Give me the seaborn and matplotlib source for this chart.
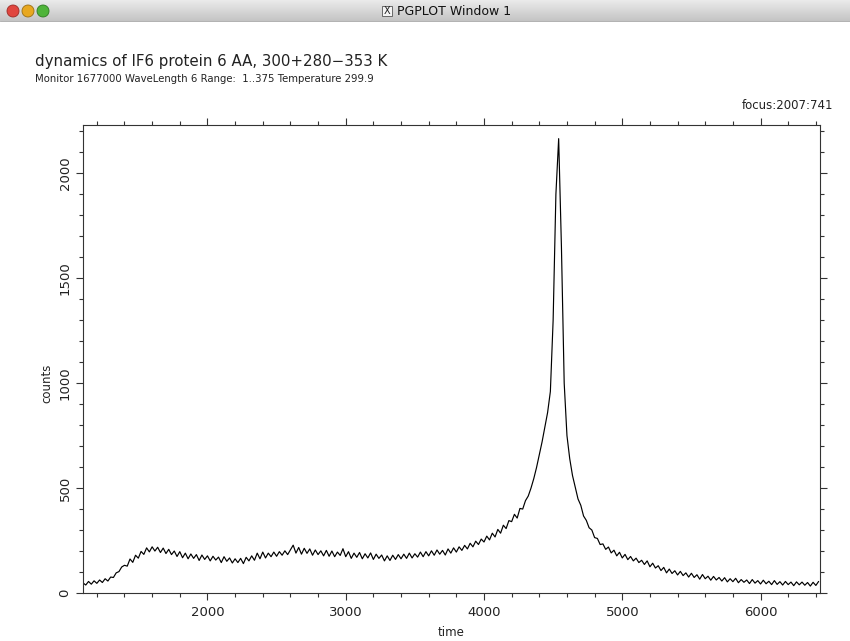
import numpy as np
import pandas as pd
import matplotlib
matplotlib.use("Agg")
import matplotlib.pyplot as plt
import seaborn as sns
from matplotlib.patches import Circle, Rectangle
from matplotlib.ticker import MultipleLocator

# ---------------- data ----------------
time = np.arange(1100, 6421, 20)  # time axis, step 20
counts = [
    48, 38, 55, 42, 58, 46, 62, 50, 68, 57,            # 1100-1280
    76, 74, 96, 102, 124, 132, 128, 162, 146, 180,     # 1300-1480
    166, 198, 184, 215, 196, 220, 200, 218, 193, 214,  # 1500-1680
    188, 208, 183, 200, 174, 197, 168, 190, 163, 186,  # 1700-1880
    165, 183, 155, 181, 160, 177, 153, 175, 157, 171,  # 1900-2080
    145, 173, 151, 167, 143, 163, 145, 165, 140, 170,  # 2100-2280
    153, 177, 156, 190, 163, 195, 167, 190, 173, 195,  # 2300-2480
    175, 197, 180, 201, 183, 205, 228, 190, 217, 185,  # 2500-2680
    213, 189, 210, 180, 205, 183, 201, 177, 203, 175,  # 2700-2880
    200, 173, 195, 179, 211, 173, 197, 165, 190, 170,  # 2900-3080
    193, 163, 187, 167, 191, 160, 185, 165, 181, 153,  # 3100-3280
    177, 155, 180, 160, 183, 163, 185, 165, 190, 167,  # 3300-3480
    187, 171, 195, 173, 197, 177, 201, 180, 205, 185,  # 3500-3680
    203, 181, 210, 190, 215, 195, 220, 203, 227, 210,  # 3700-3880
    237, 220, 247, 231, 257, 243, 271, 253, 285, 267,  # 3900-4080
    303, 285, 323, 307, 345, 340, 375, 357, 403, 400,  # 4100-4280
    440, 462, 500, 545, 598, 660, 720, 790, 860, 960,  # 4300-4480
    1300, 1900, 2165, 1650, 1000, 750, 640, 560, 505, 448,  # 4500-4680
    418, 367, 346, 311, 300, 264, 260, 231, 234, 208,  # 4700-4880
    219, 191, 204, 177, 194, 167, 184, 159, 174, 153,  # 4900-5080
    166, 145, 156, 136, 153, 125, 142, 119, 130, 107,  # 5100-5280
    122, 96, 114, 93, 106, 86, 103, 83, 96, 76,        # 5300-5480
    94, 74, 87, 66, 88, 68, 80, 61, 79, 62,            # 5500-5680
    74, 57, 73, 53, 68, 54, 70, 49, 64, 51,            # 5700-5880
    62, 45, 64, 47, 59, 43, 61, 44, 56, 40,            # 5900-6080
    59, 41, 54, 38, 55, 40, 52, 35, 53, 39,            # 6100-6280
    52, 37, 50, 33, 51, 36, 55,                        # 6300-6420
]
assert len(counts) == len(time)

x_major_ticks = [2000, 3000, 4000, 5000, 6000]
y_major_ticks = [0, 500, 1000, 1500, 2000]

title_text = "dynamics of IF6 protein 6 AA, 300+280\u2212353 K"
subtitle_text = "Monitor 1677000 WaveLength 6 Range:  1..375 Temperature 299.9"
focus_text = "focus:2007:741"
window_title = "PGPLOT Window 1"

df = pd.DataFrame({"time": time, "counts": counts})

# ---------------- figure ----------------
sns.set_theme(style="white")
plt.rcParams["font.family"] = ["DejaVu Sans"]

W, H = 850, 641
fig = plt.figure(figsize=(W / 100, H / 100), dpi=100)
fig.patch.set_facecolor("white")

# window title bar
tb = fig.add_axes([0, 1 - 22 / H, 1, 22 / H])
tb.set_xlim(0, W)
tb.set_ylim(22, 0)
tb.axis("off")
grad = np.linspace(0.92, 0.76, 44)[:, None] * np.ones((1, 10))
tb.imshow(grad, cmap="gray", vmin=0, vmax=1, extent=(0, W, 22, 0), aspect="auto")
tb.plot([0, W], [21.5, 21.5], color="#7a7a7a", lw=1)
for cx, col, ec in [(13, "#e0463f", "#9c2a25"), (28, "#e8a820", "#9c6e10"), (43, "#4fb43a", "#2d7a20")]:
    tb.add_patch(Circle((cx, 11), 6, facecolor=col, edgecolor=ec, lw=0.6))
tb.add_patch(Rectangle((382, 6), 10, 10, facecolor="#f4f4f4", edgecolor="#555555", lw=0.6))
tb.text(387, 11.5, "X", ha="center", va="center", fontsize=7, color="#222222")
tb.text(397, 11.5, window_title, ha="left", va="center", fontsize=9, color="#111111")

# main axes
ax = fig.add_axes([83 / W, 48 / H, 737 / W, 468 / H])
sns.lineplot(data=df, x="time", y="counts", ax=ax, color="black", linewidth=0.85,
             estimator=None, sort=False)
ax.set_xlim(1100, 6430)
ax.set_ylim(0, 2230)
ax.set_xticks(x_major_ticks)
ax.set_yticks(y_major_ticks)
ax.xaxis.set_minor_locator(MultipleLocator(200))
ax.yaxis.set_minor_locator(MultipleLocator(100))
ax.tick_params(which="both", direction="out", top=True, right=True, bottom=True, left=True,
               labeltop=False, labelright=False, labelbottom=True, labelleft=True,
               color="#333333", width=0.8)
ax.tick_params(which="major", length=5.2)
ax.tick_params(which="minor", length=2.6)
ax.tick_params(axis="x", labelsize=9.5, pad=4, labelcolor="#222222")
ax.tick_params(axis="y", labelsize=9.5, pad=3, labelcolor="#222222")
for lbl in ax.get_yticklabels():
    lbl.set_rotation(90)
    lbl.set_va("center")
for sp in ax.spines.values():
    sp.set_color("#333333")
    sp.set_linewidth(0.8)

ax.set_xlabel("time", fontsize=8.5, color="#222222")
ax.set_ylabel("counts", fontsize=8.5, color="#222222")
ax.xaxis.set_label_coords(0.5, (593 - 626) / 468)
ax.yaxis.set_label_coords((53 - 83) / 737, (593 - 383) / 468)

fig.text(35 / W, 1 - 66 / H, title_text, fontsize=10.8, color="#222222", va="baseline", ha="left")
fig.text(35 / W, 1 - 82 / H, subtitle_text, fontsize=7.3, color="#222222", va="baseline", ha="left")
fig.text(833 / W, 1 - 109 / H, focus_text, fontsize=8.5, color="#222222", va="baseline", ha="right")

fig.savefig("out.png", dpi=100)
